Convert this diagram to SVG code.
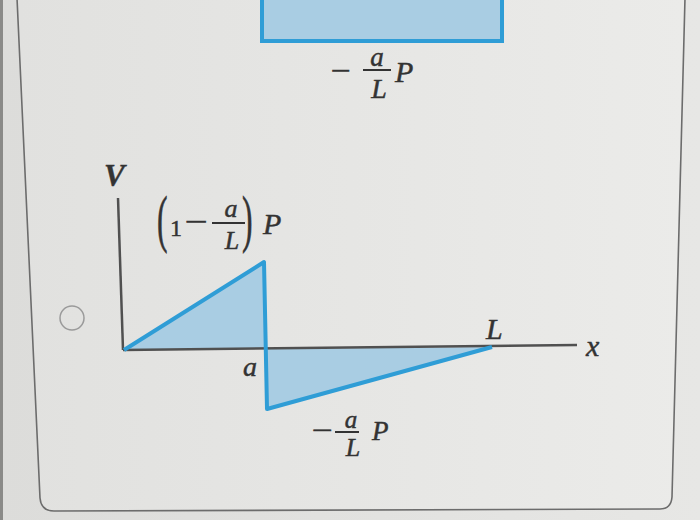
<svg xmlns="http://www.w3.org/2000/svg" width="700" height="520" viewBox="0 0 700 520">
<defs>
<linearGradient id="bg" x1="0" y1="0" x2="1" y2="0">
<stop offset="0" stop-color="#dcdcda"/>
<stop offset="1" stop-color="#e7e7e5"/>
</linearGradient>
<linearGradient id="panel" x1="0" y1="0" x2="1" y2="0">
<stop offset="0" stop-color="#e1e1df"/>
<stop offset="1" stop-color="#ebebe9"/>
</linearGradient>
</defs>
<style>
.t{font-family:"Liberation Serif","DejaVu Serif",serif;fill:#333;stroke:#333;stroke-width:0.45;font-style:italic}
.r{font-family:"Liberation Serif","DejaVu Serif",serif;fill:#333;stroke:#333;stroke-width:0.45}
.bar{stroke:#333;stroke-width:2}
.axis{stroke:#505050;stroke-width:2.5;fill:none}
.fill{fill:#a9cde3;stroke:none}
.blue{stroke:#2f9dd6;stroke-width:4;fill:none;stroke-linejoin:round}
</style>
<rect x="0" y="0" width="700" height="520" fill="url(#bg)"/>
<rect x="0" y="0" width="3" height="520" fill="#8a8a88"/>
<g id="panel-frame">
<path d="M17,-2 L40,498 Q41,511 54,511 L660,509 Q671,509 672,497 L685,-2 Z" fill="url(#panel)" stroke="#6c6c6c" stroke-width="1.6"/>
</g>
<g id="top-option">
<rect x="262" y="-10" width="240" height="51" fill="#a9cde3" stroke="#2f9dd6" stroke-width="4"/>
<text class="r" x="331" y="80" font-size="28" textLength="20" lengthAdjust="spacingAndGlyphs">−</text>
<text class="t" x="377" y="66" font-size="27" text-anchor="middle">a</text>
<line class="bar" x1="363" y1="70" x2="391" y2="70"/>
<text class="t" x="379" y="98" font-size="28" text-anchor="middle">L</text>
<text class="t" x="395" y="82" font-size="30">P</text>
</g>
<g id="radio">
<circle cx="72" cy="318" r="12" fill="none" stroke="#9a9a9a" stroke-width="1.5"/>
</g>
<g id="shear-fill">
<polygon class="fill" points="124,350 264,262 265,349"/>
<polygon class="fill" points="265,349 267,409 492,347"/>
</g>
<g id="axes">
<line class="axis" x1="118" y1="198" x2="123" y2="350"/>
<line class="axis" x1="123" y1="350" x2="577" y2="345"/>
</g>
<g id="shear-line">
<polyline class="blue" points="124,350 264,262 267,409 492,347"/>
</g>
<g id="labels">
<text class="t" x="104" y="186" font-size="31" font-weight="bold">V</text>
<text class="r" font-size="44" transform="translate(157,240) scale(0.72,1.42)">(</text>
<text class="r" x="170" y="236" font-size="24">1</text>
<text class="r" x="185" y="231" font-size="28" textLength="23" lengthAdjust="spacingAndGlyphs">−</text>
<text class="t" x="231" y="217" font-size="26" text-anchor="middle">a</text>
<line class="bar" x1="212" y1="223" x2="245" y2="223"/>
<text class="t" x="232" y="249" font-size="26" text-anchor="middle">L</text>
<text class="r" font-size="44" transform="translate(242,240) scale(0.72,1.42)">)</text>
<text class="t" x="263" y="234" font-size="30">P</text>
<text class="t" x="250" y="376" font-size="28" text-anchor="middle">a</text>
<text class="t" x="486" y="339" font-size="30">L</text>
<text class="t" x="586" y="356" font-size="30">x</text>
<text class="r" x="312" y="439" font-size="26" textLength="21" lengthAdjust="spacingAndGlyphs">−</text>
<text class="t" x="351" y="428" font-size="25" text-anchor="middle">a</text>
<line class="bar" x1="335" y1="432" x2="359" y2="432"/>
<text class="t" x="353" y="456" font-size="26" text-anchor="middle">L</text>
<text class="t" x="372" y="440" font-size="27">P</text>
</g>
</svg>
